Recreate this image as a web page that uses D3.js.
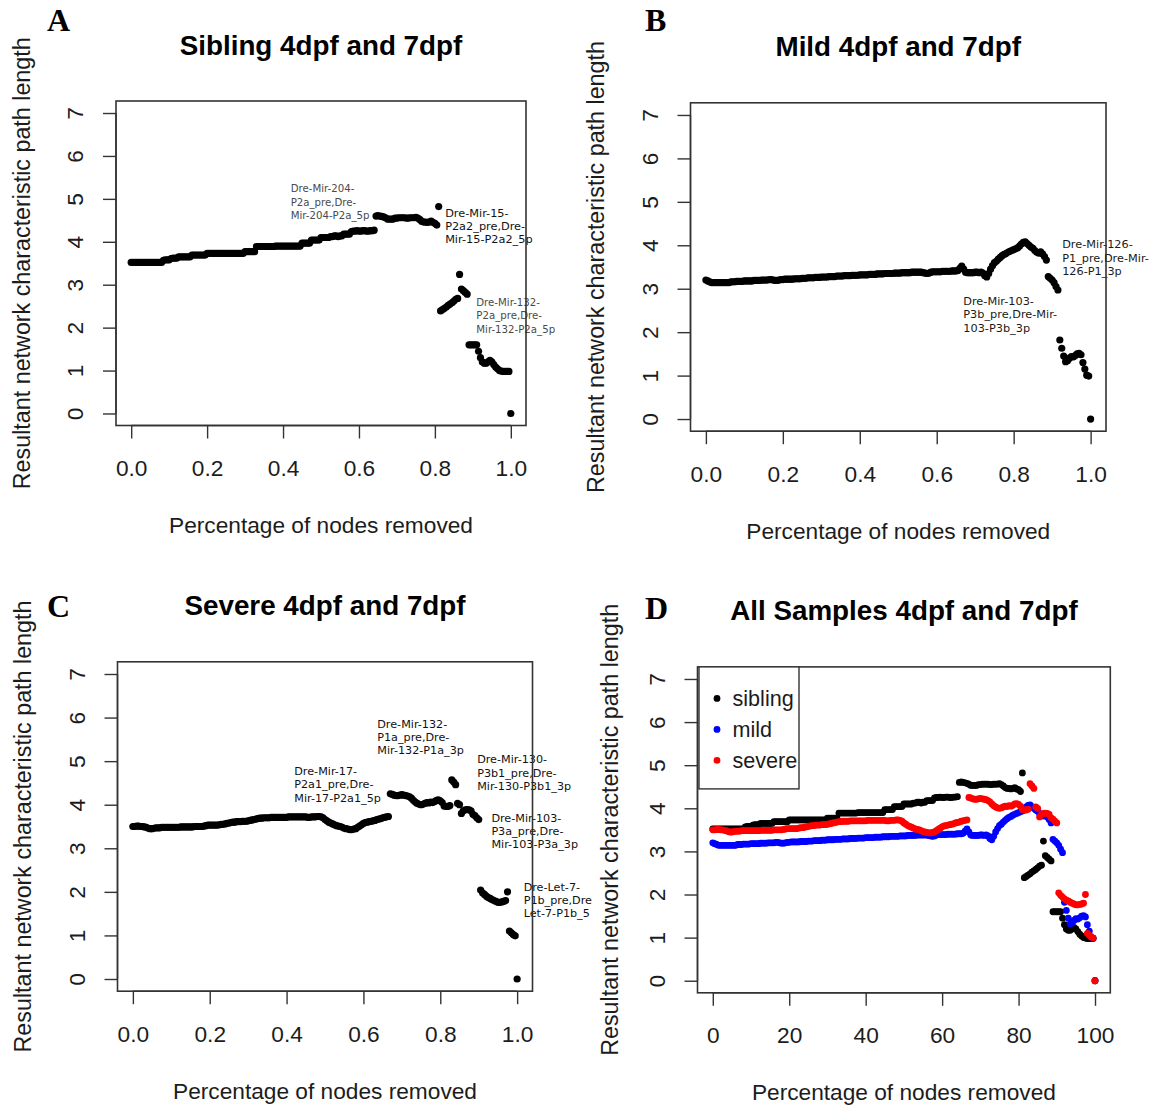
<!DOCTYPE html>
<html>
<head>
<meta charset="utf-8">
<script src="https://cdn.jsdelivr.net/npm/d3@7"></script>
<style>
  html, body { margin: 0; padding: 0; background: #fff; }
  svg { display: block; }
</style>
</head>
<body>
<svg id="fig" width="1161" height="1108"></svg>
<script>
// Resultant characteristic path length after removing nodes, one value
// every 0.5 % of nodes removed (0 % ... 100 %).
const stepPct = 0.5;

const sibling = [
  3.52,3.52,3.52,3.52,3.52,3.52,3.52,3.52,3.52,3.52,3.52,3.52,3.52,3.52,3.52,3.52,3.52,
  3.57,3.58,3.58,3.58,
  3.61,3.62,3.62,3.62,
  3.65,3.65,3.65,3.65,3.65,3.65,3.65,
  3.69,3.69,3.69,3.69,3.69,3.69,3.69,3.69,
  3.73,3.73,3.73,3.73,3.73,3.73,3.73,3.73,3.73,3.73,3.73,3.73,3.73,3.73,3.73,3.73,3.73,3.73,3.73,3.73,
  3.77,3.77,3.77,3.77,3.77,3.77,
  3.89,3.89,3.89,3.89,3.89,3.89,3.89,3.89,3.89,3.89,3.90,3.90,3.90,3.90,3.90,3.90,3.90,3.90,3.90,3.90,3.90,3.90,3.90,3.90,
  3.97,3.97,3.97,3.97,3.97,
  4.04,4.04,4.04,4.04,4.04,
  4.10,4.10,4.10,4.10,4.10,
  4.12,4.12,4.14,4.14,4.12,4.14,4.14,
  4.18,4.18,4.18,4.18,
  4.24,4.25,4.25,4.26,4.25,4.25,4.26,4.26,4.25,4.25,4.26,4.26,4.27,
  4.60,4.61,4.60,4.59,4.58,4.56,
  4.53,4.53,4.53,4.53,
  4.55,4.55,4.56,4.56,4.56,4.56,4.55,4.55,4.56,4.56,4.56,4.57,4.55,4.52,
  4.48,4.46,4.46,4.45,4.46,4.48,4.45,4.43,
  4.39,
  4.82,
  2.39,
  2.42,2.45,2.48,2.52,2.55,2.58,2.62,2.66,
  2.68,
  3.24,
  2.90,2.86,2.82,2.78,
  1.60,1.60,1.60,1.60,1.60,
  1.45,1.30,
  1.20,1.17,1.17,
  1.20,1.24,
  1.20,1.14,
  1.08,1.04,
  1.00,0.99,0.98,0.98,0.98,0.98,
  0
];

const mild = [
  3.20,3.18,3.16,
  3.14,3.14,3.14,3.14,3.14,3.14,3.14,3.14,3.14,3.14,
  3.16,3.16,3.16,3.17,3.17,3.17,3.17,3.18,3.18,3.18,3.18,3.18,3.19,3.19,3.19,3.19,3.20,3.20,
  3.20,3.20,3.21,3.21,3.20,3.19,3.19,3.20,3.21,3.21,3.22,3.22,3.22,3.22,3.22,3.23,3.23,3.23,3.23,3.24,
  3.24,3.24,3.25,3.25,3.25,3.25,3.26,3.26,3.26,3.27,3.27,3.27,3.27,3.28,3.28,3.28,3.28,3.29,3.29,3.29,
  3.29,3.30,3.30,3.30,3.30,3.31,3.31,3.31,3.31,3.32,3.32,3.32,3.32,3.32,3.33,3.33,3.33,3.33,3.34,3.34,
  3.34,3.34,3.35,3.35,3.35,3.35,3.35,3.36,3.36,3.36,3.36,3.37,3.37,3.37,3.37,3.37,3.38,3.38,3.38,3.38,
  3.38,3.38,3.37,3.36,3.35,3.36,3.38,3.39,3.39,3.39,3.39,3.39,3.40,3.40,3.40,
  3.40,3.40,3.41,3.41,3.41,3.42,
  3.47,3.52,3.45,
  3.38,3.37,3.37,3.37,3.37,3.38,3.38,3.37,
  3.38,3.36,3.30,3.27,
  3.35,3.45,3.53,3.60,
  3.63,3.68,3.72,3.76,3.79,3.81,
  3.84,3.86,3.88,3.90,3.92,3.94,
  3.98,4.03,4.07,4.08,
  4.04,4.00,3.96,3.93,
  3.88,3.84,3.82,3.85,
  3.80,3.74,3.66,
  3.28,
  3.24,3.20,3.14,
  3.05,2.97,
  1.82,
  1.63,
  1.45,
  1.32,
  1.34,1.40,
  1.44,1.43,1.46,1.50,
  1.51,1.48,
  1.30,1.15,
  1.01,0.99,
  0
];

const severe = [
  3.50,3.50,3.51,3.51,3.50,3.50,3.49,3.48,
  3.46,3.45,3.45,3.46,3.47,
  3.47,3.47,3.48,3.48,3.48,3.48,3.48,3.48,3.48,3.48,3.48,3.48,3.49,3.49,3.49,3.49,3.49,3.49,3.49,3.50,3.50,3.50,3.50,3.50,3.51,3.52,
  3.53,3.53,3.53,3.53,3.53,3.53,3.54,3.55,3.55,3.56,3.57,3.58,
  3.59,3.60,3.60,3.61,3.61,3.61,3.62,3.62,3.62,3.63,3.64,3.65,3.66,3.67,3.68,3.69,3.69,
  3.70,3.70,3.70,3.70,3.71,3.71,3.71,3.71,3.71,3.71,3.71,3.71,3.71,3.72,3.72,3.72,3.72,3.72,3.72,3.72,3.72,3.72,3.72,3.71,3.71,3.72,3.72,3.72,3.73,3.73,3.72,3.70,
  3.66,3.63,3.60,3.58,3.56,3.54,3.52,3.51,3.50,3.48,
  3.46,3.45,3.44,3.43,3.43,3.44,3.45,
  3.48,3.51,3.54,3.57,3.59,3.60,3.61,
  3.62,3.63,3.64,3.66,3.67,3.68,3.70,3.71,3.72,3.73,
  4.25,4.24,4.22,4.21,4.21,4.22,4.23,4.22,4.21,4.20,4.18,4.15,
  4.10,4.06,4.03,4.01,4.00,
  4.01,4.03,4.05,4.04,4.06,4.05,4.07,4.10,4.11,4.09,4.05,
  3.97,3.96,3.96,3.98,
  4.57,4.52,4.46,
  4.03,4.00,
  3.80,
  3.86,3.88,3.89,3.88,3.86,
  3.78,3.75,3.70,3.66,
  2.04,
  1.98,1.94,1.90,1.87,1.85,1.82,1.80,1.78,1.76,1.76,1.77,1.78,1.80,
  2.00,
  1.10,1.06,1.02,0.99,
  0
];

// Axis ticks and labels
const yTicks = [0, 1, 2, 3, 4, 5, 6, 7];
const fracTicks = [0, 0.2, 0.4, 0.6, 0.8, 1.0];
const fracTickLabels = ["0.0", "0.2", "0.4", "0.6", "0.8", "1.0"];
const pctTicks = [0, 20, 40, 60, 80, 100];
const pctTickLabels = ["0", "20", "40", "60", "80", "100"];

const seriesNames = ["sibling", "mild", "severe"];
const seriesColors = ["#000000", "#0000ff", "#ff0000"];

const panelTitles = ["Sibling 4dpf and 7dpf", "Mild 4dpf and 7dpf",
                     "Severe 4dpf and 7dpf", "All Samples 4dpf and 7dpf"];
const panelLetters = ["A", "B", "C", "D"];
const xAxisTitle = "Percentage of nodes removed";
const yAxisTitle = "Resultant network characteristic path length";

// Node labels written next to the curves (text lines, anchored at data coordinates)
const notesSibling = [
  ["Dre-Mir-204-", "P2a_pre,Dre-", "Mir-204-P2a_5p"],
  ["Dre-Mir-15-", "P2a2_pre,Dre-", "Mir-15-P2a2_5p"],
  ["Dre-Mir-132-", "P2a_pre,Dre-", "Mir-132-P2a_5p"]
];
const notesMild = [
  ["Dre-Mir-126-", "P1_pre,Dre-Mir-", "126-P1_3p"],
  ["Dre-Mir-103-", "P3b_pre,Dre-Mir-", "103-P3b_3p"]
];
const notesSevere = [
  ["Dre-Mir-17-", "P2a1_pre,Dre-", "Mir-17-P2a1_5p"],
  ["Dre-Mir-132-", "P1a_pre,Dre-", "Mir-132-P1a_3p"],
  ["Dre-Mir-130-", "P3b1_pre,Dre-", "Mir-130-P3b1_3p"],
  ["Dre-Mir-103-", "P3a_pre,Dre-", "Mir-103-P3a_3p"],
  ["Dre-Let-7-", "P1b_pre,Dre", "Let-7-P1b_5"]
];

// ---------------------------------------------------------------------------
// Layout
const panels = [
  { box: [116, 101, 526, 425.5], xMax: 1, ticks: fracTicks, tickLabels: fracTickLabels,
    series: [0], mono: true, notes: notesSibling,
    noteAt: [[0.420, 5.23], [0.827, 4.67], [0.909, 2.58]],
    noteStyle: [{ size: 10.2, fill: "#4a4a4a" }, { size: 11.3, fill: "#111" }, { size: 10.2, fill: "#4a4a4a" }],
    letterAt: [47, 31], yTitleOffset: 94, r: 3.6 },
  { box: [690.5, 102.8, 1106, 431.2], xMax: 1, ticks: fracTicks, tickLabels: fracTickLabels,
    series: [1], mono: true, notes: notesMild,
    noteAt: [[0.926, 4.01], [0.669, 2.70]],
    noteStyle: [{ size: 11.3, fill: "#1a1a1a" }, { size: 11.3, fill: "#1a1a1a" }],
    letterAt: [645, 31], yTitleOffset: 95, r: 3.6 },
  { box: [117.5, 661.8, 532.5, 991.2], xMax: 1, ticks: fracTicks, tickLabels: fracTickLabels,
    series: [2], mono: true, notes: notesSevere,
    noteAt: [[0.420, 4.76], [0.636, 5.85], [0.896, 5.03], [0.933, 3.69], [1.017, 2.10]],
    noteStyle: [0, 1, 2, 3, 4].map(() => ({ size: 11.2, fill: "#111" })),
    letterAt: [47, 617], yTitleOffset: 95, r: 3.6 },
  { box: [697.5, 666.9, 1110.3, 992.8], xMax: 100, ticks: pctTicks, tickLabels: pctTickLabels,
    series: [0, 1, 2], mono: false, notes: [], noteAt: [], noteStyle: [],
    letterAt: [645, 619], yTitleOffset: 88, r: 3.4, legend: true }
];

const allSeries = [sibling, mild, severe];

const svg = d3.select("#fig");
const axisFont = "'Liberation Sans', Arial, sans-serif";
const axisSize = 22.7;
const axisColor = "#1c1c1c";
const tickLen = 13;

panels.forEach((p, k) => {
  const [left, top, right, bottom] = p.box;
  const x = d3.scaleLinear().domain([-0.04 * p.xMax, 1.04 * p.xMax]).range([left, right]);
  const y = d3.scaleLinear().domain([-0.28, 7.28]).range([bottom, top]);
  const g = svg.append("g");

  // points
  p.series.forEach(si => {
    const vals = allSeries[si];
    const pts = vals.map((v, i) => ({ pct: i * stepPct, v }));
    g.append("g").selectAll("circle").data(pts).join("circle")
      .attr("cx", d => x(p.xMax === 1 ? d.pct / 100 : d.pct))
      .attr("cy", d => y(d.v))
      .attr("r", p.r)
      .attr("fill", p.mono ? "#000" : seriesColors[si]);
  });

  // node labels
  p.notes.forEach((lines, j) => {
    const [nx, ny] = p.noteAt[j];
    const st = p.noteStyle[j];
    const t = g.append("text")
      .attr("font-family", "'DejaVu Sans', Verdana, sans-serif")
      .attr("font-size", st.size)
      .attr("fill", st.fill);
    lines.forEach((ln, li) => {
      t.append("tspan")
        .attr("x", x(nx))
        .attr("y", y(ny) + li * 13.2)
        .attr("dominant-baseline", "central")
        .text(ln);
    });
  });

  // x axis (ticks below the box)
  const xAxis = d3.axisBottom(x).tickValues(p.ticks).tickFormat((d, i) => p.tickLabels[i])
    .tickSize(tickLen).tickPadding(0);
  const gx = g.append("g").attr("transform", `translate(0,${bottom})`).call(xAxis);
  gx.select(".domain").attr("d", `M${x(p.ticks[0])},0H${x(p.ticks[p.ticks.length - 1])}`)
    .attr("stroke", "#333").attr("stroke-width", 1.4);
  gx.selectAll(".tick line").attr("stroke", "#333").attr("stroke-width", 1.4);
  gx.selectAll(".tick text")
    .attr("y", 42.5).attr("dy", null)
    .attr("dominant-baseline", "central")
    .attr("font-family", axisFont).attr("font-size", axisSize).attr("fill", axisColor);

  // y axis (labels parallel to the axis)
  const yAxis = d3.axisLeft(y).tickValues(yTicks).tickFormat(d3.format("d"))
    .tickSize(tickLen).tickPadding(0);
  const gy = g.append("g").attr("transform", `translate(${left},0)`).call(yAxis);
  gy.select(".domain").attr("d", `M0,${y(0)}V${y(7)}`).attr("stroke", "#333").attr("stroke-width", 1.4);
  gy.selectAll(".tick line").attr("stroke", "#333").attr("stroke-width", 1.4);
  gy.selectAll(".tick text")
    .attr("x", null).attr("dy", null)
    .attr("transform", "translate(-41,0) rotate(-90)")
    .attr("text-anchor", "middle")
    .attr("dominant-baseline", "central")
    .attr("font-family", axisFont).attr("font-size", axisSize).attr("fill", axisColor);

  // plot box
  g.append("rect")
    .attr("x", left).attr("y", top)
    .attr("width", right - left).attr("height", bottom - top)
    .attr("fill", "none").attr("stroke", "#333").attr("stroke-width", 1.6);

  // titles
  g.append("text")
    .attr("x", (left + right) / 2).attr("y", top - 56)
    .attr("text-anchor", "middle").attr("dominant-baseline", "central")
    .attr("font-family", axisFont).attr("font-weight", "bold").attr("font-size", 27.8)
    .attr("fill", "#000")
    .text(panelTitles[k]);

  g.append("text")
    .attr("x", (left + right) / 2).attr("y", bottom + 99.5)
    .attr("text-anchor", "middle").attr("dominant-baseline", "central")
    .attr("font-family", axisFont).attr("font-size", axisSize).attr("fill", axisColor)
    .text(xAxisTitle);

  g.append("text")
    .attr("transform", `translate(${left - p.yTitleOffset},${(top + bottom) / 2}) rotate(-90)`)
    .attr("text-anchor", "middle").attr("dominant-baseline", "central")
    .attr("font-family", axisFont).attr("font-size", 23.3).attr("fill", axisColor)
    .text(yAxisTitle);

  g.append("text")
    .attr("x", p.letterAt[0]).attr("y", p.letterAt[1])
    .attr("font-family", "'Liberation Serif', 'Times New Roman', serif")
    .attr("font-weight", "bold").attr("font-size", 32).attr("fill", "#000")
    .text(panelLetters[k]);

  // legend
  if (p.legend) {
    const lg = g.append("g");
    lg.append("rect")
      .attr("x", left + 1.5).attr("y", top)
      .attr("width", 100).attr("height", 122)
      .attr("fill", "#fff").attr("stroke", "#333").attr("stroke-width", 1.4);
    seriesNames.forEach((nm, i) => {
      const cy = top + 31.5 + i * 31;
      lg.append("circle").attr("cx", left + 19.5).attr("cy", cy).attr("r", 3.4)
        .attr("fill", seriesColors[i]);
      lg.append("text").attr("x", left + 35).attr("y", cy)
        .attr("dominant-baseline", "central")
        .attr("font-family", axisFont).attr("font-size", 21.6).attr("fill", axisColor)
        .text(nm);
    });
  }
});
</script>
</body>
</html>
